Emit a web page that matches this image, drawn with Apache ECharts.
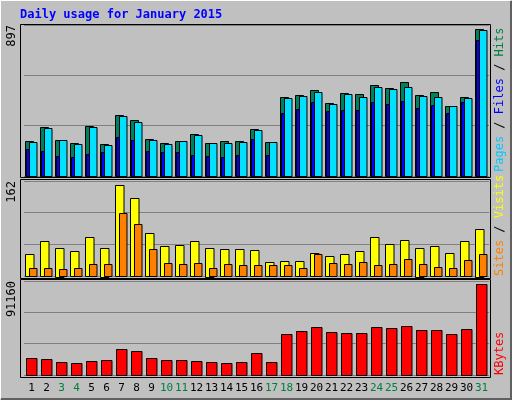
<!DOCTYPE html>
<html><head><meta charset="utf-8">
<script src="https://cdn.jsdelivr.net/npm/echarts@6/dist/echarts.min.js"></script>
<style>html,body{margin:0;padding:0;background:#c0c0c0}#c{width:512px;height:400px}</style>
</head><body><div id="c"></div>
<script>
var days = ['1','2','3','4','5','6','7','8','9','10','11','12','13','14','15','16','17','18','19','20','21','22','23','24','25','26','27','28','29','30','31'];
var weekends = ['3','4','10','11','17','18','24','25','31'];
var hits  = [214,299,220,201,305,195,372,342,226,201,214,256,201,214,214,287,207,482,494,525,445,506,500,555,537,574,494,513,427,482,897];
var pages = [207,293,220,195,299,189,366,330,220,195,214,250,201,201,207,281,207,476,488,513,439,500,482,543,531,543,488,482,427,476,891];
var files = [165,153,122,116,134,146,238,220,153,146,146,128,122,116,128,226,128,384,409,452,397,403,403,452,439,458,415,433,384,452,830];
var visits = [40,62,51,44,69,51,162,139,77,53,55,63,51,49,49,46,25,26,26,42,35,39,44,70,58,65,51,53,42,62,85];
var sites  = [14,14,12,14,21,21,113,93,48,23,21,23,14,21,19,19,19,19,14,39,23,21,25,19,21,30,21,16,14,28,40];
var kbytes = [17030,16030,13020,12020,14020,15030,26040,24040,17030,15030,15030,14020,13020,12020,13020,22040,13020,41070,44070,48080,43070,42070,42070,48080,47080,49080,45080,45080,41070,46080,91160];
var maxLabels = ['897','162','91160'];

var chart = echarts.init(document.getElementById('c'));
var mono = 'DejaVu Sans Mono';
function barSeries(data, gi, x0, x1, color) {
  return {
    type: 'custom', xAxisIndex: gi, yAxisIndex: gi,
    data: data.map(function (v, i) { return [i, v]; }),
    renderItem: function (params, api) {
      var p = api.coord([api.value(0), api.value(1)]);
      var b = api.coord([api.value(0), 0]);
      return { type: 'rect', shape: { x: Math.round(p[0] + x0) + 0.5, y: Math.round(p[1]) + 0.5, width: x1 - x0, height: Math.round(b[1] - p[1]) },
        style: { fill: color, stroke: '#000', lineWidth: 1 } };
    }
  };
}
var grids = [
  { left: 24, width: 465, top: 25, height: 151 },
  { left: 24, width: 465, top: 181, height: 95 },
  { left: 24, width: 465, top: 281, height: 94 }
];
var ymax = [921, 170, 94000];
var xAxes = grids.map(function (g, i) {
  return { type: 'category', gridIndex: i, data: days, boundaryGap: true,
    axisLine: { show: false }, axisTick: { show: false },
    axisLabel: { show: i === 2, interval: 0, margin: 8, fontFamily: mono, fontSize: 11,
      formatter: function (v) { return weekends.indexOf(v) >= 0 ? '{w|' + v + '}' : '{n|' + v + '}'; },
      rich: { w: { color: '#008040', fontFamily: mono, fontSize: 11 }, n: { color: '#000', fontFamily: mono, fontSize: 11 } } } };
});
var yAxes = grids.map(function (g, i) {
  return { type: 'value', gridIndex: i, min: 0, max: ymax[i], interval: ymax[i] / 3,
    axisLabel: { show: false }, axisLine: { show: false }, axisTick: { show: false },
    splitLine: { lineStyle: { color: '#808080', width: 1 } } };
});
function frame(y, h) {
  return { type: 'rect', shape: { x: 20.5, y: y + 0.5, width: 470, height: h }, style: { fill: null, stroke: '#000', lineWidth: 1 }, z: 10 };
}
function vtext(x, y, rich, txt) {
  return { type: 'text', x: x, y: y, rotation: Math.PI / 2, z: 20,
    style: { text: txt, rich: rich, fontFamily: mono, fontSize: 12, align: 'left', verticalAlign: 'middle' } };
}
chart.setOption({
  backgroundColor: '#c0c0c0',
  animation: false,
  grid: grids,
  xAxis: xAxes,
  yAxis: yAxes,
  series: [
    barSeries(hits, 0, -6.5, 1.5, '#00805c'),
    barSeries(pages, 0, -2.5, 5, '#00e0ff'),
    barSeries(files, 0, -5.5, -2.5, '#0000ff'),
    barSeries(visits, 1, -6.5, 2, '#ffff00'),
    barSeries(sites, 1, -2.5, 5, '#ff8000'),
    barSeries(kbytes, 2, -5.5, 5, '#ff0000')
  ],
  graphic: [
    { type: 'rect', shape: { x: 0.5, y: 0.5, width: 510, height: 398 }, style: { fill: null, stroke: '#ffffff', lineWidth: 1 } },
    { type: 'polyline', shape: { points: [[1, 399], [511, 399], [511, 1]] }, style: { stroke: '#606060', lineWidth: 2, fill: null } },
    { type: 'text', x: 20, y: 15, style: { text: 'Daily usage for January 2015', fontFamily: mono, fontWeight: 'bold', fontSize: 12, fill: '#0000ff', verticalAlign: 'middle' } },
    frame(24, 153), frame(179, 99), frame(279, 98),
    { type: 'text', x: 12, y: 25, rotation: Math.PI / 2, style: { text: maxLabels[0], fontFamily: mono, fontSize: 12, fill: '#000', align: 'right', verticalAlign: 'middle' } },
    { type: 'text', x: 12, y: 181, rotation: Math.PI / 2, style: { text: maxLabels[1], fontFamily: mono, fontSize: 12, fill: '#000', align: 'right', verticalAlign: 'middle' } },
    { type: 'text', x: 12, y: 281, rotation: Math.PI / 2, style: { text: maxLabels[2], fontFamily: mono, fontSize: 12, fill: '#000', align: 'right', verticalAlign: 'middle' } },
    vtext(500, 172, { p: { fill: '#00c8ff', fontFamily: mono, fontSize: 12 }, f: { fill: '#0000ff', fontFamily: mono, fontSize: 12 }, h: { fill: '#008040', fontFamily: mono, fontSize: 12 }, s: { fill: '#000', fontFamily: mono, fontSize: 12 } }, '{p|Pages}{s| / }{f|Files}{s| / }{h|Hits}'),
    vtext(500, 276, { a: { fill: '#ff8000', fontFamily: mono, fontSize: 12 }, b: { fill: '#ffff00', fontFamily: mono, fontSize: 12 }, s: { fill: '#000', fontFamily: mono, fontSize: 12 } }, '{a|Sites}{s| / }{b|Visits}'),
    vtext(500, 375, { k: { fill: '#ff0000', fontFamily: mono, fontSize: 12 } }, '{k|KBytes}')
  ]
});
</script></body></html>
